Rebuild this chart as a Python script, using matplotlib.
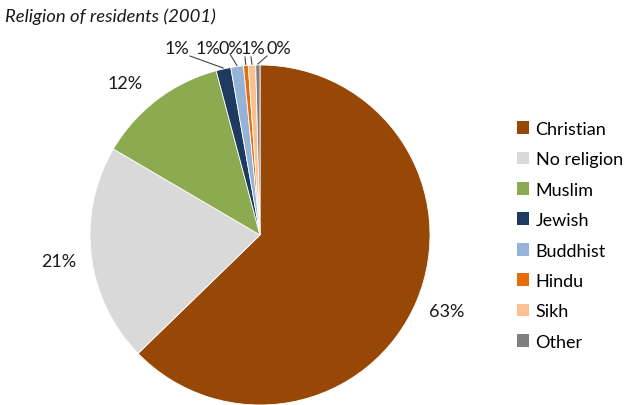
import numpy as np
import matplotlib.pyplot as plt
from matplotlib.patches import Patch

plt.rcParams['font.family'] = ['Lato', 'DejaVu Sans']

religions = ['Christian', 'No religion', 'Muslim', 'Jewish', 'Buddhist', 'Hindu', 'Sikh', 'Other']
shares = [62.7, 20.7, 12.4, 1.4, 1.2, 0.45, 0.7, 0.4]
colors = ['#974706', '#D9D9D9', '#8CAA50', '#1F3A5F', '#95B3D7', '#E46C0A', '#FAC090', '#7F7F7F']
pct_labels = ['%d%%' % int(round(s)) for s in shares]

W, H = 625, 406
fig = plt.figure(figsize=(W / 100, H / 100), dpi=100)
ax = fig.add_axes([0, 0, 1, 1])

cx, cy, R = 260, 170, 170
wedges, _ = ax.pie(shares, colors=colors, startangle=90, counterclock=False,
                   center=(cx, cy), radius=R, frame=True,
                   wedgeprops=dict(edgecolor='white', linewidth=0.6))
ax.set_xlim(0, W)
ax.set_ylim(0, H)
ax.set_aspect('equal')
ax.axis('off')

# big slices: label outside along the middle angle (small nudges like excel)
nudge = [(0, 3), (0, -2), (-12, -9)]
for w, lab, (dx, dy) in zip(wedges[:3], pct_labels[:3], nudge):
    a = np.deg2rad((w.theta1 + w.theta2) / 2)
    r = R * 1.19
    ax.text(cx + r * np.cos(a) + dx, cy + r * np.sin(a) + dy, lab, ha='center', va='center',
            fontsize=13, color='#1a1a1a')

# small slices: labels crowded at the top with leader lines
label_x = [177, 208, 231, 253, 279]
label_y = H - 49
line_start = [(190, H - 57), (230, H - 55), (245, H - 58), (251, H - 58), (267, H - 57)]
for i, w in enumerate(wedges[3:]):
    ax.text(label_x[i], label_y, pct_labels[3 + i], ha='center', va='center',
            fontsize=13, color='#1a1a1a')
    a = np.deg2rad((w.theta1 + w.theta2) / 2)
    ex, ey = cx + (R + 1) * np.cos(a), cy + (R + 1) * np.sin(a)
    sx, sy = line_start[i]
    ax.plot([sx, ex], [sy, ey], color='#444444', lw=0.8)

ax.text(5, H - 17, 'Religion of residents (2001)', ha='left', va='center',
        fontsize=13.3, style='italic', color='#1a1a1a')

handles = [Patch(facecolor=c, edgecolor='none') for c in colors]
fig.legend(handles, religions, loc='center left', bbox_to_anchor=(0.815, 0.418),
           frameon=False, fontsize=13, handlelength=0.7, handleheight=0.7,
           handletextpad=0.35, labelspacing=0.8, borderaxespad=0)

fig.savefig('out.png', dpi=100)
